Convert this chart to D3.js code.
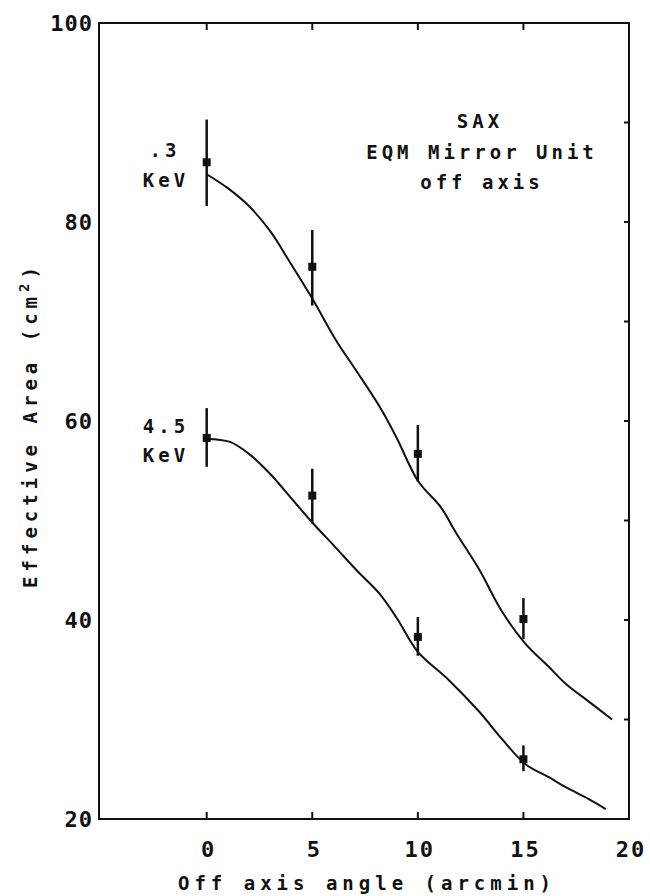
<!DOCTYPE html>
<html>
<head>
<meta charset="utf-8">
<script src="https://cdn.jsdelivr.net/npm/d3@7"></script>
<style>
  body { margin: 0; background: #fff; }
  text { font-family: "DejaVu Sans Mono", monospace; font-weight: bold; fill: #111; }
</style>
</head>
<body>
<script>
// measured points (off axis angle in arcmin)
var angles = [0, 5, 10, 15];
var lowE = [86.0, 75.5, 56.7, 40.1];      // .3 KeV
var lowELo = [81.6, 71.6, 53.9, 38.1];
var lowEHi = [90.3, 79.2, 59.6, 42.2];
var highE = [58.3, 52.5, 38.3, 26.0];     // 4.5 KeV
var highELo = [55.4, 49.7, 36.4, 24.8];
var highEHi = [61.3, 55.2, 40.3, 27.4];

// model curves
var curveX1 = [0, 1, 2, 3, 3.9, 5, 6.1, 7.1, 8.2, 9, 10, 11.1, 11.8, 12.9, 14, 15.1, 16.2, 17, 18.1, 19.2];
var curveY1 = [84.8, 83.4, 81.6, 79.1, 76.1, 72.3, 68.2, 65.0, 61.4, 58.3, 54.0, 51.3, 48.8, 45.1, 40.8, 37.6, 35.3, 33.6, 31.8, 30.0];
var curveX2 = [0, 1.1, 2, 3, 3.9, 5, 6.1, 7.1, 8.2, 9, 10, 11.4, 12.9, 14, 15.1, 16.2, 17, 18.1, 18.9];
var curveY2 = [58.2, 57.9, 56.7, 54.7, 52.5, 49.8, 47.3, 45.0, 42.6, 40.2, 36.8, 34.1, 30.8, 28.0, 25.5, 24.2, 23.2, 22.0, 21.0];

var xTicks = [0, 5, 10, 15, 20];
var yTicks = [20, 40, 60, 80, 100];
var yMinor = [30, 50, 70, 90];

var svg = d3.select("body").append("svg")
    .attr("width", 650)
    .attr("height", 896);

var x = d3.scaleLinear().domain([-5.1, 20]).range([99, 629]);
var y = d3.scaleLinear().domain([20, 100]).range([819, 23]);

// frame
svg.append("rect")
    .attr("x", x(-5.1)).attr("y", y(100))
    .attr("width", x(20) - x(-5.1)).attr("height", y(20) - y(100))
    .attr("fill", "none").attr("stroke", "#111").attr("stroke-width", 2);

// ticks, all pointing inward
var tk = svg.append("g").attr("stroke", "#111").attr("stroke-width", 2);
xTicks.slice(0, 4).forEach(function(t) {
    tk.append("line").attr("x1", x(t)).attr("x2", x(t)).attr("y1", y(20)).attr("y2", y(20) - 7);
    tk.append("line").attr("x1", x(t)).attr("x2", x(t)).attr("y1", y(100)).attr("y2", y(100) + 7);
});
yTicks.slice(1, 4).concat(yMinor).forEach(function(t) {
    tk.append("line").attr("x1", x(20)).attr("x2", x(20) - 5).attr("y1", y(t)).attr("y2", y(t));
});

// tick labels
svg.selectAll(".xl").data(xTicks).enter().append("text")
    .attr("x", function(d) { return x(d) + 2; })
    .attr("y", 857)
    .attr("text-anchor", "middle")
    .style("font-size", "22px").style("letter-spacing", "2px")
    .text(function(d) { return d; });

svg.selectAll(".yl").data(yTicks).enter().append("text")
    .attr("x", 93)
    .attr("y", function(d) { return y(d) + 8; })
    .attr("text-anchor", "end")
    .style("font-size", "22px").style("letter-spacing", "1px")
    .text(function(d) { return d; });

// axis titles
svg.append("text")
    .attr("x", 367).attr("y", 890)
    .attr("text-anchor", "middle")
    .style("font-size", "19px").style("letter-spacing", "5px")
    .text("Off axis angle (arcmin)");

var yt = svg.append("text")
    .attr("transform", "translate(37,425) rotate(-90)")
    .attr("text-anchor", "middle")
    .style("font-size", "19px").style("letter-spacing", "5px");
yt.append("tspan").text("Effective Area (cm");
yt.append("tspan").attr("dy", -8).style("font-size", "14px").text("2");
yt.append("tspan").attr("dy", 8).text(")");

// model curves
var line = d3.line()
    .x(function(d) { return x(d[0]); })
    .y(function(d) { return y(d[1]); })
    .curve(d3.curveCatmullRom);
[d3.zip(curveX1, curveY1), d3.zip(curveX2, curveY2)].forEach(function(c) {
    svg.append("path").datum(c)
        .attr("d", line)
        .attr("fill", "none").attr("stroke", "#111").attr("stroke-width", 2);
});

// data points with error bars
function drawPoints(vals, lo, hi) {
    var g = svg.append("g");
    angles.forEach(function(a, i) {
        g.append("line")
            .attr("x1", x(a)).attr("x2", x(a))
            .attr("y1", y(lo[i])).attr("y2", y(hi[i]))
            .attr("stroke", "#111").attr("stroke-width", 2.5);
        g.append("rect")
            .attr("x", x(a) - 4).attr("y", y(vals[i]) - 4)
            .attr("width", 8).attr("height", 8)
            .attr("fill", "#111");
    });
}
drawPoints(lowE, lowELo, lowEHi);
drawPoints(highE, highELo, highEHi);

// annotations
function label(txt, cx, cy) {
    svg.append("text")
        .attr("x", cx).attr("y", cy)
        .attr("text-anchor", "middle")
        .style("font-size", "19px").style("letter-spacing", "4px")
        .text(txt);
}
label(".3", 165, 157);
label("KeV", 166, 187);
label("4.5", 166, 433);
label("KeV", 166, 462);
label("SAX", 480, 128);
label("EQM Mirror Unit", 482, 159);
label("off axis", 482, 189);
</script>
</body>
</html>
